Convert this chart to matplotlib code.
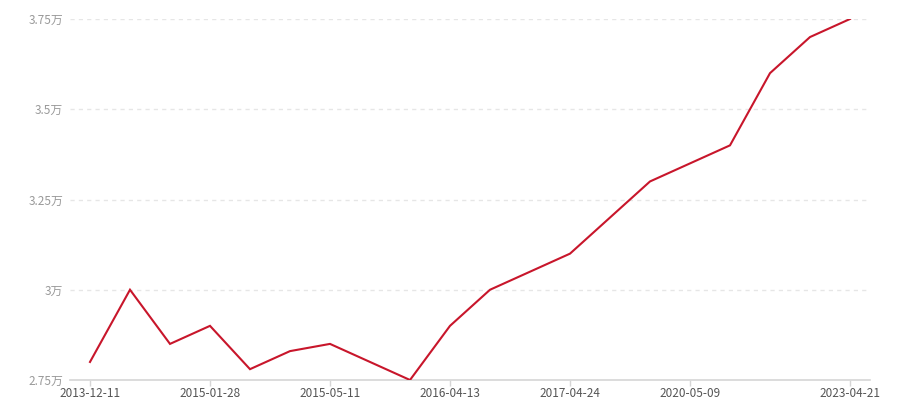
import matplotlib
matplotlib.use("Agg")
import matplotlib.pyplot as plt

plt.rcParams['font.family'] = ['Noto Sans CJK SC', 'DejaVu Sans']

dates = ["2013-12-11", "2014-04-15", "2014-09-02", "2015-01-28", "2015-03-05",
         "2015-04-08", "2015-05-11", "2015-09-16", "2016-01-20", "2016-04-13",
         "2016-07-26", "2016-12-08", "2017-04-24", "2018-06-13", "2019-05-20",
         "2020-05-09", "2021-03-18", "2021-11-05", "2022-08-10", "2023-04-21"]
values = [2.80, 3.00, 2.85, 2.90, 2.78, 2.83, 2.85, 2.80, 2.75, 2.90,
          3.00, 3.05, 3.10, 3.20, 3.30, 3.35, 3.40, 3.60, 3.70, 3.75]
label_idx = [0, 3, 6, 9, 12, 15, 19]
yticks = [2.75, 3.0, 3.25, 3.5, 3.75]
ytick_labels = ["2.75万", "3万", "3.25万", "3.5万", "3.75万"]

fig = plt.figure(figsize=(9, 4), dpi=100)
ax = fig.add_axes([70/900, 20/400, 800/900, 361/400])
x = list(range(len(dates)))
ax.plot(x, values, color='#c8162b', linewidth=1.5, solid_joinstyle='miter', zorder=3)

ax.set_xlim(-0.5, len(dates) - 0.5)
ax.set_ylim(2.75, 3.75)
ax.set_xticks(label_idx)
ax.set_xticklabels([dates[i] for i in label_idx], fontsize=8.5, color='#555555')
ax.set_yticks(yticks)
ax.set_yticklabels(ytick_labels, fontsize=8.5, color='#999999')

for s in ['top', 'right', 'left']:
    ax.spines[s].set_visible(False)
ax.spines['bottom'].set_color('#d6d6d6')
ax.spines['bottom'].set_linewidth(1.2)
ax.tick_params(axis='x', length=4, width=1, color='#d6d6d6', pad=1)
ax.tick_params(axis='y', length=0, pad=5)
ax.grid(axis='y', color='#e6e6e6', linestyle=(0, (3, 3)), linewidth=1)
ax.set_axisbelow(True)

fig.savefig("out.png", dpi=100)
